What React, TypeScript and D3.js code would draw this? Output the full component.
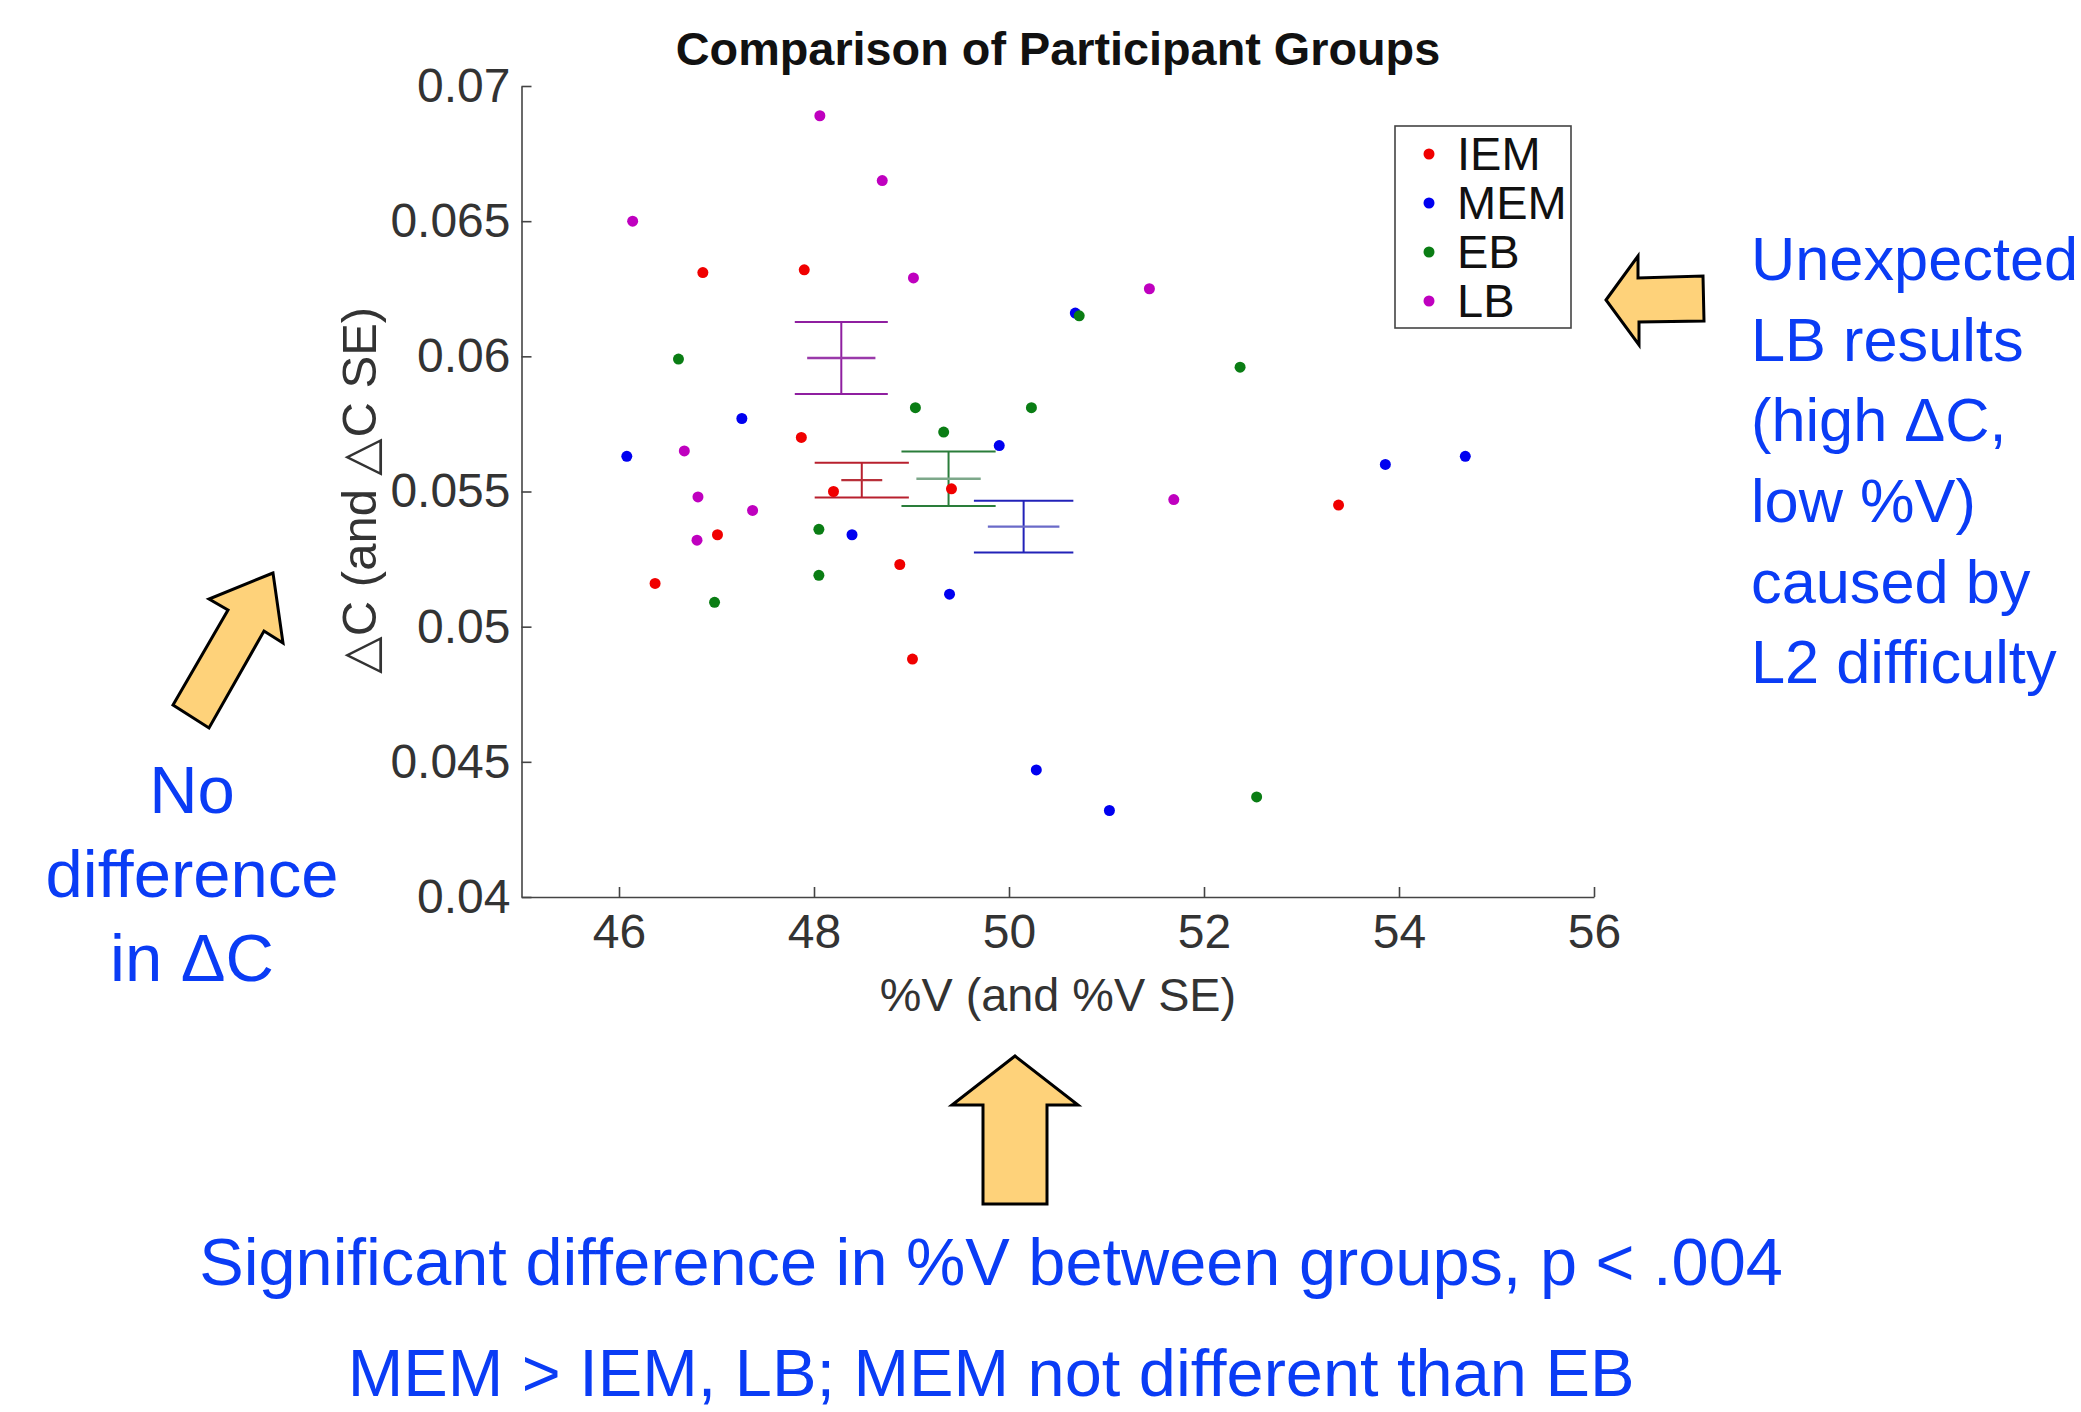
import * as d3 from "d3";
import React, { useRef, useEffect } from "react";

const width = 2081;
const height = 1412;
const plot = { left: 521.5, right: 1594, top: 86, bottom: 897 };

const xTicks = [46, 48, 50, 52, 54, 56];
const yTicks = [0.04, 0.045, 0.05, 0.055, 0.06, 0.065, 0.07];

const groups = ["IEM", "MEM", "EB", "LB"];
const dotColors = ["#f00000", "#0000f0", "#0a7d14", "#bf00bf"];
const barColors = ["#b8202e", "#2222b8", "#2a7d3a", "#8f1fa0"];
const meanColors = ["#b8303a", "#6a6ac8", "#7da88a", "#9a3aaa"];

// scatter points, [%V, delta C]
const iemPoints = [
  [46.86, 0.0631], [47.9, 0.0632], [47.87, 0.057], [48.2, 0.055], [49.41, 0.0551],
  [47.01, 0.0534], [46.37, 0.0516], [48.88, 0.0523], [49.01, 0.0488], [53.38, 0.0545],
];
const memPoints = [
  [46.08, 0.0563], [47.26, 0.0577], [49.9, 0.0567], [50.68, 0.0616], [48.39, 0.0534],
  [49.39, 0.0512], [50.28, 0.0447], [51.03, 0.0432], [53.86, 0.056], [54.68, 0.0563],
];
const ebPoints = [
  [46.61, 0.0599], [49.04, 0.0581], [49.33, 0.0572], [50.23, 0.0581], [50.72, 0.0615],
  [52.37, 0.0596], [48.05, 0.0536], [48.05, 0.0519], [46.98, 0.0509], [52.54, 0.0437],
];
const lbPoints = [
  [48.06, 0.0689], [48.7, 0.0665], [46.14, 0.065], [49.02, 0.0629], [51.44, 0.0625],
  [46.67, 0.0565], [46.81, 0.0548], [47.37, 0.0543], [46.8, 0.0532], [51.69, 0.0547],
];
const allPoints = [iemPoints, memPoints, ebPoints, lbPoints];

// group means and standard errors
const meanV = [48.49, 50.15, 49.38, 48.28];
const meanC = [0.05542, 0.0537, 0.05547, 0.05994];
const seC = [0.00064, 0.00096, 0.00101, 0.00133];
const seV = [0.21, 0.367, 0.33, 0.35];
const capV = [0.483, 0.51, 0.483, 0.477];

// callout arrows, drawn in page pixels
const arrowUp = [[1015, 1056], [952, 1105], [983, 1105], [983, 1204], [1047, 1204], [1047, 1105], [1078, 1105]];
const arrowDiag = [[273, 573], [209, 599], [228, 610], [173, 705], [209, 728], [264, 631], [283, 643]];
const arrowLeft = [[1606, 300], [1638, 256], [1638, 278], [1703, 276], [1704, 321], [1639, 322], [1639, 345]];
const arrows = [arrowUp, arrowDiag, arrowLeft];

const rightNote = ["Unexpected", "LB results", "(high ΔC,", "low %V)", "caused by", "L2 difficulty"];
const rightBaselines = [280, 361, 441, 522, 603, 683];
const leftNote = ["No", "difference", "in ΔC"];
const leftBaselines = [813, 897, 981];

const sans = "'Liberation Sans', Arial, sans-serif";
const noteBlue = "#0a3cf5";
const inkGrey = "#333333";

const xScale = d3.scaleLinear().domain([45, 56]).range([plot.left, plot.right]);
const yScale = d3.scaleLinear().domain([0.04, 0.07]).range([plot.bottom, plot.top]);
const legendY = d3.scalePoint().domain(groups).range([154, 301]);

const App = () => {
  const xAxisRef = useRef<SVGGElement>(null);
  const yAxisRef = useRef<SVGGElement>(null);

  // Draw the axes
  useEffect(() => {
    const xAxis = d3
      .axisBottom(xScale)
      .tickValues(xTicks)
      .tickSizeInner(-10)
      .tickSizeOuter(0)
      .tickPadding(17)
      .tickFormat(d3.format("d") as any);
    const yAxis = d3
      .axisLeft(yScale)
      .tickValues(yTicks)
      .tickSizeInner(-10)
      .tickSizeOuter(0)
      .tickPadding(11)
      .tickFormat((d) => String(+(+d).toFixed(3)));

    [d3.select(xAxisRef.current!).call(xAxis as any), d3.select(yAxisRef.current!).call(yAxis as any)].forEach((g) => {
      g.selectAll("path, line").attr("stroke", "#444444").attr("stroke-width", 1.6);
      g.selectAll("text").attr("fill", inkGrey).style("font-size", "48px").style("font-family", sans);
    });
  }, []);

  return (
    <svg
      width={width}
      height={height}
      style={{ position: "absolute", left: 0, top: 0, background: "#fff" }}
      fontFamily={sans}
    >
      <g ref={xAxisRef} transform={`translate(0, ${plot.bottom})`} />
      <g ref={yAxisRef} transform={`translate(${plot.left}, 0)`} />

      <text x={1058} y={65} textAnchor="middle" fontSize={46.8} fontWeight="bold" fill="#111">
        Comparison of Participant Groups
      </text>
      <text x={1058} y={1011} textAnchor="middle" fontSize={46.8} fill={inkGrey}>
        %V (and %V SE)
      </text>
      <text
        transform={`translate(376, ${(plot.top + plot.bottom) / 2 - 1}) rotate(-90)`}
        textAnchor="middle"
        fontSize={49}
        fill={inkGrey}
      >
        △C (and △C SE)
      </text>

      {/* error bars */}
      {groups.map((g, i) => {
        const cx = xScale(meanV[i]);
        const top = yScale(meanC[i] + seC[i]);
        const bottom = yScale(meanC[i] - seC[i]);
        const capL = xScale(meanV[i] - capV[i]);
        const capR = xScale(meanV[i] + capV[i]);
        return (
          <g key={g} stroke={barColors[i]} strokeWidth={2} fill="none">
            <line x1={cx} x2={cx} y1={top} y2={bottom} />
            <line x1={capL} x2={capR} y1={top} y2={top} />
            <line x1={capL} x2={capR} y1={bottom} y2={bottom} />
            <line
              x1={xScale(meanV[i] - seV[i])}
              x2={xScale(meanV[i] + seV[i])}
              y1={yScale(meanC[i])}
              y2={yScale(meanC[i])}
              stroke={meanColors[i]}
              strokeWidth={2.4}
            />
          </g>
        );
      })}

      {/* scatter points */}
      {allPoints.map((pts, i) => (
        <g key={groups[i]} fill={dotColors[i]}>
          {pts.map((d, j) => (
            <circle key={j} cx={xScale(d[0])} cy={yScale(d[1])} r={5.5} />
          ))}
        </g>
      ))}

      {/* legend */}
      <rect x={1395} y={126} width={176} height={202} fill="#fff" stroke="#444444" strokeWidth={1.6} />
      {groups.map((g, i) => (
        <g key={g}>
          <circle cx={1429} cy={legendY(g)} r={5.5} fill={dotColors[i]} />
          <text x={1457} y={legendY(g)! + 16} fontSize={47} fill="#111">
            {g}
          </text>
        </g>
      ))}

      {/* callouts */}
      {arrows.map((a, i) => (
        <path
          key={i}
          d={d3.line().curve(d3.curveLinearClosed)(a as [number, number][])!}
          fill="#fed27a"
          stroke="#000"
          strokeWidth={3}
          strokeLinejoin="miter"
        />
      ))}
      <g fill={noteBlue} fontSize={61.3}>
        {rightNote.map((t, i) => (
          <text key={t} x={1751} y={rightBaselines[i]}>
            {t}
          </text>
        ))}
      </g>
      <g fill={noteBlue} fontSize={67} textAnchor="middle">
        {leftNote.map((t, i) => (
          <text key={t} x={192} y={leftBaselines[i]}>
            {t}
          </text>
        ))}
      </g>
      <g fill={noteBlue} fontSize={66.7} textAnchor="middle">
        <text x={991} y={1285}>
          Significant difference in %V between groups, p &lt; .004
        </text>
        <text x={991} y={1396}>
          MEM &gt; IEM, LB; MEM not different than EB
        </text>
      </g>
    </svg>
  );
};

export default App;
